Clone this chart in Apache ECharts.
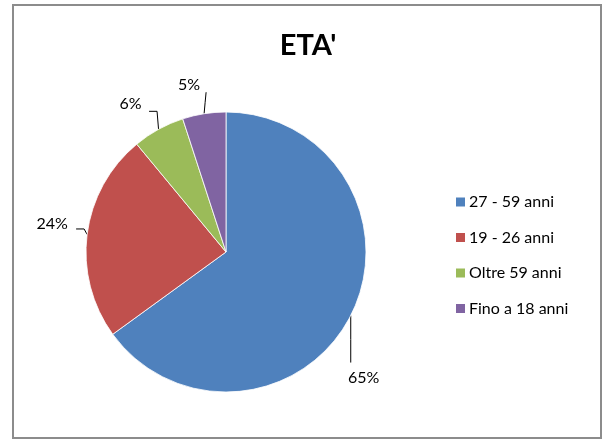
<!DOCTYPE html>
<html>
<head>
<meta charset="utf-8">
<script src="https://cdn.jsdelivr.net/npm/echarts@6/dist/echarts.min.js"></script>
<style>
html,body{margin:0;padding:0;background:#fff;}
#chart{width:606px;height:440px;}
</style>
</head>
<body>
<div id="chart"></div>
<script>
// Data
const categories = ['27 - 59 anni', '19 - 26 anni', 'Oltre 59 anni', 'Fino a 18 anni'];
const values = [65, 24, 6, 5];
const colors = ['#4F81BD', '#C0504D', '#9BBB59', '#8064A2'];

// Layout (pixels)
const CX = 226, CY = 252, R = 140;
// label leader-line shapes relative to slice edge: [bend dx, bend dy, end dx, end dy, label dx, label dy]
const leader = [
  [0, 24, 0, 47, 13, 62],
  [-3, -5.5, -11, -5.5, -35, -10.5],
  [-1.5, -18, -9.5, -18, -28, -25],
  [1, -11, 2, -21.5, -15, -29]
];

const total = values.reduce((a, b) => a + b, 0);
const edges = [];
let cum = 0;
values.forEach(v => {
  const mid = (cum + v / 2) / total * Math.PI * 2;
  edges.push([CX + R * Math.sin(mid), CY - R * Math.cos(mid)]);
  cum += v;
});

const chart = echarts.init(document.getElementById('chart'), null, {renderer: 'canvas'});
chart.setOption({
  animation: false,
  color: colors,
  title: {
    text: "ETA'",
    left: 303,
    textAlign: 'center',
    top: 26,
    textStyle: {fontFamily: 'Lato', fontWeight: 'bold', fontSize: 29, color: '#000'}
  },
  legend: {
    orient: 'vertical',
    left: 449,
    top: 189,
    itemWidth: 11,
    itemHeight: 11,
    itemGap: 19.5,
    icon: 'rect',
    textStyle: {fontFamily: 'Lato', fontSize: 16, color: '#000', lineHeight: 16, padding: [0, 0, 0, -2]},
    data: categories
  },
  graphic: [{
    type: 'rect',
    shape: {x: 13, y: 5, width: 588, height: 433},
    style: {fill: 'none', stroke: '#8c8c8c', lineWidth: 2},
    silent: true
  }],
  series: [{
    type: 'pie',
    center: [CX, CY],
    radius: [0, R],
    startAngle: 90,
    clockwise: true,
    data: categories.map((c, i) => ({name: c, value: values[i]})),
    itemStyle: {borderColor: '#fff', borderWidth: 0.8},
    label: {
      show: true,
      position: 'outside',
      formatter: p => Math.round(p.percent) + '%',
      fontFamily: 'Lato',
      fontSize: 16,
      color: '#000'
    },
    labelLine: {show: true, length: 10, length2: 10, lineStyle: {color: '#000', width: 1}},
    labelLayout: function (params) {
      const i = params.dataIndex;
      const e = edges[i];
      const L = leader[i];
      return {
        x: e[0] + L[4],
        y: e[1] + L[5],
        align: 'center',
        verticalAlign: 'middle',
        labelLinePoints: [
          [e[0], e[1]],
          [e[0] + L[0], e[1] + L[1]],
          [e[0] + L[2], e[1] + L[3]]
        ]
      };
    },
    emphasis: {disabled: true}
  }]
});
</script>
</body>
</html>
